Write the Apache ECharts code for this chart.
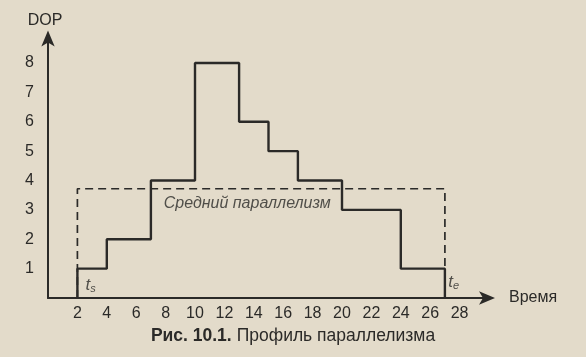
<!DOCTYPE html>
<html><head><meta charset="utf-8">
<script src="https://cdn.jsdelivr.net/npm/echarts@6/dist/echarts.min.js"></script>
<style>html,body{margin:0;padding:0;background:#e3dbca}#c{width:586px;height:357px}</style>
</head><body><div id="c"></div>
<script>
const times = [2, 2, 4, 7, 10, 13, 15, 17, 20, 24, 27];
const dop   = [0, 1, 2, 4, 8, 6, 5, 4, 3, 1, 0];
const tStart = 2, tEnd = 27;
const avgDop = 3.72;
const xTicks = [2,4,6,8,10,12,14,16,18,20,22,24,26,28];
const yTicks = [1,2,3,4,5,6,7,8];

const ink = '#2b2a28';
const font = 'Liberation Sans';
const profile = times.map((t,i)=>[t, dop[i]]);
const avgBox = [[tStart,0],[tStart,avgDop],[tEnd,avgDop],[tEnd,0]];

const chart = echarts.init(document.getElementById('c'));
chart.setOption({
  backgroundColor: '#e3dbca',
  animation: false,
  title: {
    left: 'center', top: 322,
    text: '{b|Рис. 10.1.} {n|Профиль параллелизма}',
    textStyle: { fontWeight: 'normal', rich: {
      b: { fontFamily: font, fontSize: 17.5, fontWeight: 'bold', color: ink },
      n: { fontFamily: font, fontSize: 17.5, fontWeight: 'normal', color: ink }
    }}
  },
  grid: { left: 48, right: 97, top: 36.6, bottom: 59 },
  xAxis: {
    type: 'value', min: 0, max: 30, interval: 2,
    name: 'Время', nameLocation: 'end', nameGap: 20,
    nameTextStyle: { fontFamily: font, fontSize: 16, color: ink, padding: [0,0,6,0] },
    axisLine: { show: true, symbol: ['none','arrow'], symbolSize: [10,16], symbolOffset: [0,6],
      lineStyle: { color: ink, width: 2 } },
    axisTick: { show: false }, splitLine: { show: false },
    axisLabel: { fontFamily: font, fontSize: 16, color: ink, margin: 8,
      formatter: v => xTicks.includes(v) ? String(v) : '' }
  },
  yAxis: {
    type: 'value', min: 0, max: 8.9, interval: 1,
    name: 'DOP', nameLocation: 'end', nameGap: 8,
    nameTextStyle: { fontFamily: font, fontSize: 16, color: ink, align: 'center', padding: [0,6,0,0] },
    axisLine: { show: true, symbol: ['none','arrow'], symbolSize: [10,16], symbolOffset: [0,6],
      lineStyle: { color: ink, width: 2 } },
    axisTick: { show: false }, splitLine: { show: false },
    axisLabel: { fontFamily: font, fontSize: 16, color: ink, margin: 14,
      showMaxLabel: false,
      formatter: v => yTicks.includes(v) ? String(v) : '' }
  },
  series: [
    { type: 'line', data: avgBox, symbol: 'none', silent: true,
      lineStyle: { color: ink, width: 1.7, type: [8,5] } },
    { type: 'line', data: profile, step: 'end', symbol: 'none', silent: true,
      lineStyle: { color: ink, width: 2.4 } },
    { type: 'scatter', symbolSize: 0, silent: true,
      itemStyle: { color: ink },
      data: [
        { value: [13.55, 3.22], label: { formatter: 'Средний параллелизм', fontStyle: 'italic', fontSize: 16, color: ink } },
        { value: [2.9, 0.45], label: { formatter: '{t|t}{s|s}' } },
        { value: [27.6, 0.55], label: { formatter: '{t|t}{s|e}' } }
      ],
      label: { show: true, position: 'inside', color: ink, fontFamily: font,
        rich: { t: { fontFamily: font, fontStyle: 'italic', fontSize: 17, color: ink },
                s: { fontFamily: font, fontStyle: 'italic', fontSize: 11, color: ink, padding: [8,0,0,0] } } }
    }
  ]
});
</script></body></html>
